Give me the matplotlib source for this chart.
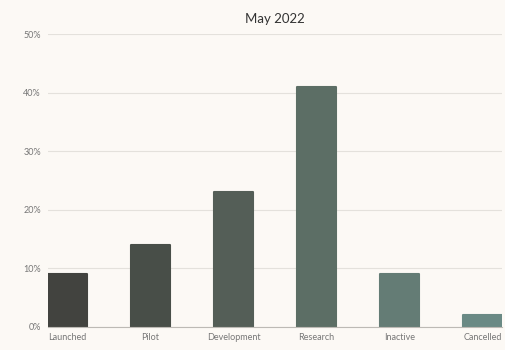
import matplotlib.pyplot as plt

categories = ['Launched', 'Pilot', 'Development', 'Research', 'Inactive', 'Cancelled']
shares = [9, 14, 23, 41, 9, 2]
colors = ['#42433f', '#484e48', '#545e57', '#5c6e65', '#647c75', '#6a8a85']
yticks = [0, 10, 20, 30, 40, 50]

plt.rcParams['font.family'] = ['Lato', 'DejaVu Sans']

fig = plt.figure(figsize=(5.06, 3.5), dpi=100)
fig.patch.set_facecolor('#fcf9f5')
ax = fig.add_axes([48 / 506, 23 / 350, 454 / 506, 293 / 350])
ax.set_facecolor('#fcf9f5')

x = range(len(categories))
ax.bar(x, shares, width=0.46, color=colors, edgecolor=colors,
       linewidth=1.5, joinstyle='round', zorder=3)

ax.set_xlim(-0.235, len(categories) - 1 + 0.235)
ax.set_ylim(0, 50)
ax.set_yticks(yticks)
ax.set_yticklabels([f'{v}%' for v in yticks])
ax.set_xticks(list(x))
ax.set_xticklabels(categories)
ax.tick_params(axis='both', length=0, labelsize=6.5, labelcolor='#777777')
ax.tick_params(axis='y', pad=5)
ax.tick_params(axis='x', pad=4)

ax.grid(axis='y', color='#e4e1dc', linewidth=0.8, zorder=0)
for side in ['top', 'right', 'left']:
    ax.spines[side].set_visible(False)
ax.spines['bottom'].set_color('#bdbab5')
ax.spines['bottom'].set_linewidth(0.8)
ax.spines['bottom'].set_zorder(4)

ax.set_title('May 2022', fontsize=9.5, color='#333333', pad=8)

fig.savefig('out.png', dpi=100, facecolor=fig.get_facecolor())
